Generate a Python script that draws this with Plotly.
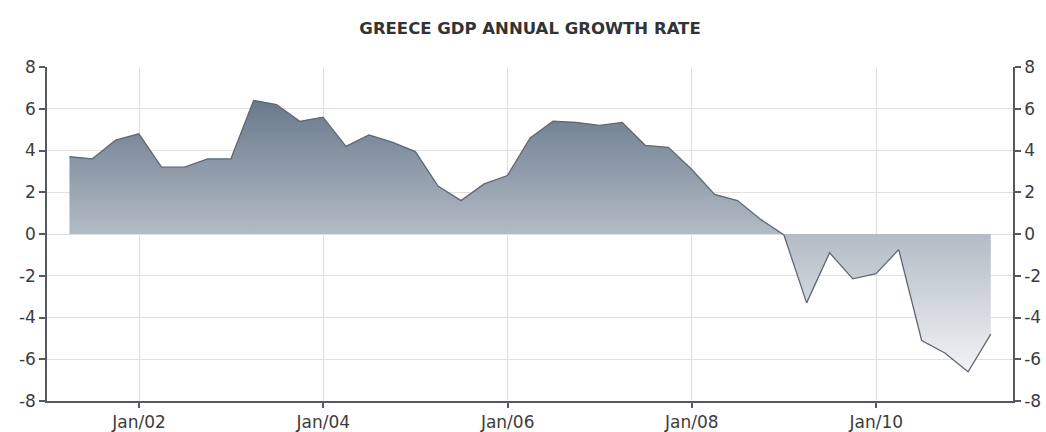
import pandas as pd
import plotly.graph_objects as go

# Greece, real GDP growth year-on-year (%), quarterly, Q1 2001 - Q1 2011
growth = [
    3.7, 3.6, 4.5, 4.8,   # 2001
    3.2, 3.2, 3.6, 3.6,   # 2002
    6.4, 6.2, 5.4, 5.6,   # 2003
    4.2, 4.75, 4.4, 3.95, # 2004
    2.3, 1.6, 2.4, 2.8,   # 2005
    4.6, 5.4, 5.35, 5.2,  # 2006
    5.35, 4.25, 4.15, 3.1, # 2007
    1.9, 1.6, 0.7, -0.05, # 2008
    -3.3, -0.9, -2.15, -1.9, # 2009
    -0.75, -5.1, -5.7, -6.6, # 2010
    -4.8,                 # 2011
]
quarters = pd.date_range("2001-03-31", periods=len(growth), freq="QE")

x_ticks = ["2002-01-01", "2004-01-01", "2006-01-01", "2008-01-01", "2010-01-01"]
x_tick_labels = ["Jan/02", "Jan/04", "Jan/06", "Jan/08", "Jan/10"]
y_ticks = [-8, -6, -4, -2, 0, 2, 4, 6, 8]
y_tick_labels = ["-8", "-6", "-4", "-2", "0", "2", "4", "6", "8"]

axis_color = "#555a60"
grid_color = "#e0e0e0"
tick_font = dict(family="DejaVu Sans", size=17, color="#3c3c3c")

fig = go.Figure()
fig.add_trace(go.Scatter(
    x=quarters,
    y=growth,
    mode="lines",
    line=dict(color="#5f6873", width=1.3),
    fill="tozeroy",
    fillgradient=dict(
        type="vertical",
        start=-7,
        stop=6.6,
        colorscale=[[0, "#f5f6f8"], [0.5, "#b5bdc7"], [1, "#66778a"]],
    ),
    hoverinfo="x+y",
    showlegend=False,
))
# invisible trace to carry the mirrored right-hand axis
fig.add_trace(go.Scatter(x=quarters, y=growth, yaxis="y2", mode="lines",
                         line=dict(width=0), hoverinfo="skip", showlegend=False))

fig.update_layout(
    width=1046,
    height=432,
    margin=dict(l=47, r=33, t=67, b=31),
    paper_bgcolor="white",
    plot_bgcolor="white",
    title=dict(
        text="GREECE GDP ANNUAL GROWTH RATE",
        x=0.5, xref="paper", xanchor="center",
        y=1 - 28 / 432, yref="container", yanchor="middle",
        font=dict(family="DejaVu Sans", size=16.5, color="#333333", weight="bold"),
    ),
    xaxis=dict(
        type="date",
        range=["2001-01-01", "2011-06-27"],
        tickvals=x_ticks,
        ticktext=x_tick_labels,
        ticks="outside", ticklen=5, tickcolor=axis_color, tickwidth=1.5,
        showline=True, linecolor=axis_color, linewidth=1.5,
        showgrid=True, gridcolor=grid_color, gridwidth=1,
        zeroline=False, automargin=False,
        tickfont=tick_font,
    ),
    yaxis=dict(
        range=[-8, 8],
        tickvals=y_ticks,
        ticktext=y_tick_labels,
        ticks="outside", ticklen=6, tickcolor=axis_color, tickwidth=1.5,
        showline=True, linecolor=axis_color, linewidth=1.5,
        showgrid=True, gridcolor=grid_color, gridwidth=1,
        zeroline=False, automargin=False,
        tickfont=tick_font,
    ),
    yaxis2=dict(
        range=[-8, 8],
        overlaying="y",
        side="right",
        tickvals=y_ticks,
        ticktext=y_tick_labels,
        ticks="outside", ticklen=6, tickcolor=axis_color, tickwidth=1.5,
        showline=True, linecolor=axis_color, linewidth=1.5,
        showgrid=False, zeroline=False, automargin=False,
        tickfont=tick_font,
    ),
)

fig.write_html("out.html")
